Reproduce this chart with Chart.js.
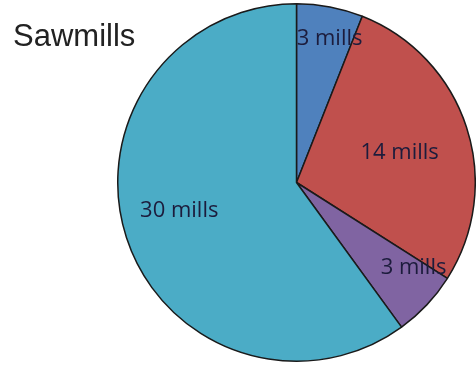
<!DOCTYPE html>
<html>
<head>
<meta charset="utf-8">
<script src="https://cdn.jsdelivr.net/npm/chart.js@4/dist/chart.umd.min.js"></script>
<style>
  html, body { margin: 0; padding: 0; background: #fff; }
  #wrap { position: relative; width: 476px; height: 365px; }
  #title {
    position: absolute; left: 13px; top: 18px;
    font: 31px "Liberation Sans", Arial, sans-serif; color: #222;
  }
</style>
</head>
<body>
<div id="wrap">
  <canvas id="pie" width="476" height="365"></canvas>
  <div id="title">Sawmills</div>
</div>
<script>
// slice data, clockwise from the top
const categories = ["3 mills", "14 mills", "3 mills", "30 mills"];
const mills = [3, 14, 3, 30];
const colors = ["#4f81bd", "#c0504d", "#8064a2", "#4bacc6"];
// where each label sits: share of the slice's sweep, share of the radius
const labelSweep = [0.6, 0.52, 0.17, 0.52];
const labelDepth = [0.825, 0.6, 0.81, 0.675];

const sliceLabels = {
  id: "sliceLabels",
  afterDatasetsDraw(chart) {
    const ctx = chart.ctx;
    const arcs = chart.getDatasetMeta(0).data;
    ctx.save();
    ctx.font = '22px "Open Sans", sans-serif';
    ctx.fillStyle = "#1c1c3c";
    ctx.textAlign = "center";
    ctx.textBaseline = "middle";
    arcs.forEach((arc, i) => {
      const a = arc.startAngle + (arc.endAngle - arc.startAngle) * labelSweep[i];
      const r = arc.outerRadius * labelDepth[i];
      ctx.fillText(categories[i], arc.x + Math.cos(a) * r, arc.y + Math.sin(a) * r);
    });
    ctx.restore();
  },
};

new Chart(document.getElementById("pie").getContext("2d"), {
  type: "pie",
  data: {
    labels: categories,
    datasets: [
      {
        data: mills,
        backgroundColor: colors,
        borderColor: "#1a1a1a",
        borderWidth: 1.5,
      },
    ],
  },
  options: {
    responsive: false,
    animation: false,
    layout: { padding: { left: 117, right: 0, top: 0, bottom: 0 } },
    plugins: {
      legend: { display: false },
      tooltip: { enabled: false },
    },
  },
  plugins: [sliceLabels],
});
</script>
</body>
</html>
